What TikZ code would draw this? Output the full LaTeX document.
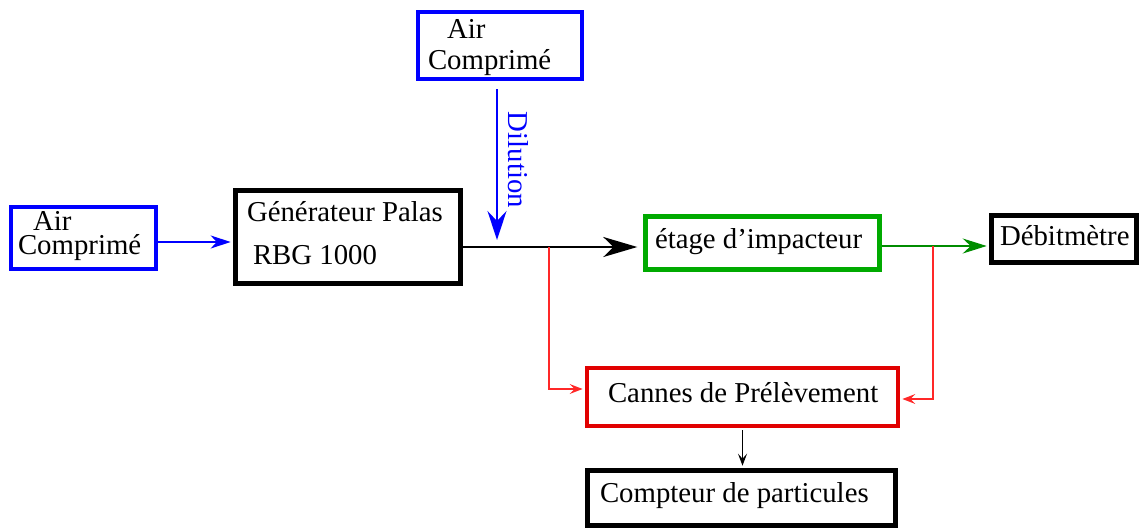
\documentclass[tikz,border=0pt]{standalone}
\usepackage{fontspec}
\setmainfont{Liberation Serif}
\usetikzlibrary{arrows.meta}
\definecolor{cblue}{RGB}{0,0,255}
\definecolor{cgreen}{RGB}{0,170,0}
\definecolor{cgreenl}{RGB}{0,140,0}
\definecolor{cred}{RGB}{225,0,0}
\definecolor{credl}{RGB}{255,40,40}
% #1 box width, #2 left offset, #3 height above last baseline, #4 baselineskip, #5 lines
\newcommand\bxt[5]{\raisebox{0pt}[#3pt][0pt]{\makebox[#1pt][l]{\hspace*{#2pt}\vbox{\baselineskip=#4pt\lineskiplimit=-30pt\lineskip=0pt #5}}}}
\begin{document}
\begin{tikzpicture}[x=0.5pt,y=-0.5pt,
  font=\fontsize{14.4}{17}\selectfont,
  bx/.style={draw, rectangle, inner sep=0pt, line width=2.4pt, anchor=center},
  bluebx/.style={bx, draw=cblue, line width=2.3pt},
  greenbx/.style={bx, draw=cgreen, line width=2.2pt},
  redbx/.style={bx, draw=cred, line width=2.2pt},
  smallred/.style={credl, line width=0.6pt, -{Stealth[length=6.5pt,width=5pt,inset=2.5pt]}, shorten >=1.1pt}]
\useasboundingbox (0,0) rectangle (1140,530);

% boxes
\node[bluebx, minimum width=82pt, minimum height=33.5pt] (airT) at (500,45.5)
  {\bxt{82}{5}{23.5}{15.35}{\hbox{\hspace*{9.5pt}Air}\hbox{Comprimé}}};
\node[bluebx, minimum width=72.5pt, minimum height=31pt] (airL) at (83.5,238)
  {\bxt{72.5}{3.5}{16.5}{12}{\hbox{\hspace*{7.5pt}Air}\hbox{Comprimé}}};
\node[bx, minimum width=112.5pt, minimum height=46.5pt] (gen) at (348,237)
  {\bxt{112.5}{5.75}{27}{21.5}{\hbox{Générateur Palas}\hbox{\hspace*{3pt}RBG 1000}}};
\node[greenbx, minimum width=117pt, minimum height=26.5pt] (etage) at (762.5,243)
  {\bxt{117}{4.75}{5.3}{17}{\hbox{étage d’impacteur}}};
\node[bx, minimum width=72.5pt, minimum height=23.5pt] (debit) at (1064,239)
  {\bxt{72.5}{4.25}{6}{17}{\hbox{Débitmètre}}};
\node[redbx, minimum width=155.5pt, minimum height=29pt] (cannes) at (742.5,397)
  {\bxt{155.5}{10.5}{5.3}{17}{\hbox{Cannes de Prélèvement}}};
\node[bx, minimum width=154pt, minimum height=27.5pt] (compteur) at (741.5,498)
  {\bxt{154}{6.25}{4.7}{17}{\hbox{Compteur de particules}}};

% label
\node[text=cblue, rotate=-90, inner sep=0pt] (dil) at (518,160) {Dilution};

% junction / free-end coordinates
\coordinate (dtip) at (497,240);
\coordinate (j1) at (549,247);
\coordinate (j2) at (933,246);

% connectors
\draw[cblue, line width=0.8pt, -{Stealth[length=10pt,width=6.5pt,inset=3pt]}, shorten >=1.2pt]
  ([yshift=-2pt]airL.east) -- ([yshift=-2.5pt]gen.west);
\draw[cblue, line width=1pt, -{Stealth[length=14.5pt,width=9.5pt,inset=5pt]}]
  ([shift={(-3,8)}]airT.south) -- (dtip);
\draw[black, line width=1.1pt, -{Stealth[length=17pt,width=10pt,inset=5pt]}, shorten >=3pt]
  ([yshift=-5pt]gen.east) -- ([yshift=-2pt]etage.west);
\draw[cgreenl, line width=0.6pt, -{Stealth[length=12pt,width=7.5pt,inset=4pt]}, shorten >=1.2pt]
  ([yshift=-1.5pt]etage.east) -- ([yshift=-3.5pt]debit.west);
\draw[smallred] (j1) |- ([yshift=4pt]cannes.west);
\draw[smallred] (j2) |- ([yshift=-1pt]cannes.east);
\draw[black, line width=0.6pt, -{Stealth[length=6pt,width=4.5pt,inset=2.5pt]}, shorten >=1.2pt, shorten <=1.1pt]
  (cannes.south) -- (cannes.south |- compteur.north);
\end{tikzpicture}
\end{document}
